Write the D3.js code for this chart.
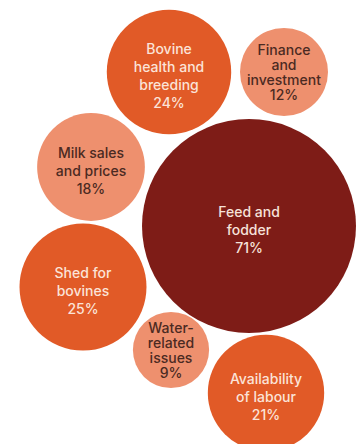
<!DOCTYPE html>
<html>
<head>
<meta charset="utf-8">
<script src="https://cdn.jsdelivr.net/npm/d3@7/dist/d3.min.js"></script>
<style>
  html, body { margin: 0; padding: 0; background: #ffffff; }
  svg { display: block; }
  text { font-family: Inter, "Noto Sans", sans-serif; font-weight: 500; }
</style>
</head>
<body>
<svg id="chart" width="356" height="444"></svg>
<script>
// Challenges reported by dairy farmers (share of respondents, %)
const categories = [
  "Bovine health and breeding",
  "Finance and investment",
  "Milk sales and prices",
  "Feed and fodder",
  "Shed for bovines",
  "Water-related issues",
  "Availability of labour"
];
const values = [24, 12, 18, 71, 25, 9, 21];
const labelLines = [
  ["Bovine", "health and", "breeding"],
  ["Finance", "and", "investment"],
  ["Milk sales", "and prices"],
  ["Feed and", "fodder"],
  ["Shed for", "bovines"],
  ["Water-", "related", "issues"],
  ["Availability", "of labour"]
];

// Bubble layout: centre of each bubble in the 356x444 frame
const centers = [
  [169, 72], [284, 72], [91, 167], [249, 226],
  [83, 287], [171, 350], [266, 393]
];
// Tone per bubble: 0 = dark, 1 = mid orange, 2 = light salmon
const tones = [1, 2, 2, 0, 1, 2, 1];
const fills = ["#7e1c17", "#e15a27", "#ee906e"];
const inks  = ["#f6e2da", "#fbe3d8", "#4b2a22"];

const svg = d3.select("#chart");

// Bubble area proportional to the share
const r = d3.scaleSqrt().domain([0, 71]).range([0, 107]);

const nodes = categories.map((c, i) => ({
  name: c, value: values[i], lines: labelLines[i],
  cx: centers[i][0], cy: centers[i][1], tone: tones[i]
}));

const g = svg.selectAll("g.bubble")
  .data(nodes)
  .join("g")
  .attr("class", "bubble")
  .attr("transform", d => `translate(${d.cx},${d.cy})`);

g.append("circle")
  .attr("r", d => r(d.value))
  .attr("fill", d => fills[d.tone]);

// Small bubbles with four label lines get tighter leading
g.each(function(d) {
  const all = d.lines.concat([d.value + "%"]);
  const lineH = (all.length > 3 && r(d.value) < 50) ? 15 : 18;
  const shift = lineH === 15 ? 1 : 4;
  const y0 = shift - ((all.length - 1) * lineH) / 2;
  d3.select(this).selectAll("text")
    .data(all)
    .join("text")
    .attr("text-anchor", "middle")
    .attr("dy", "0.35em")
    .attr("y", (t, k) => y0 + k * lineH)
    .attr("font-size", 14)
    .attr("fill", inks[d.tone])
    .text(t => t);
});
</script>
</body>
</html>
